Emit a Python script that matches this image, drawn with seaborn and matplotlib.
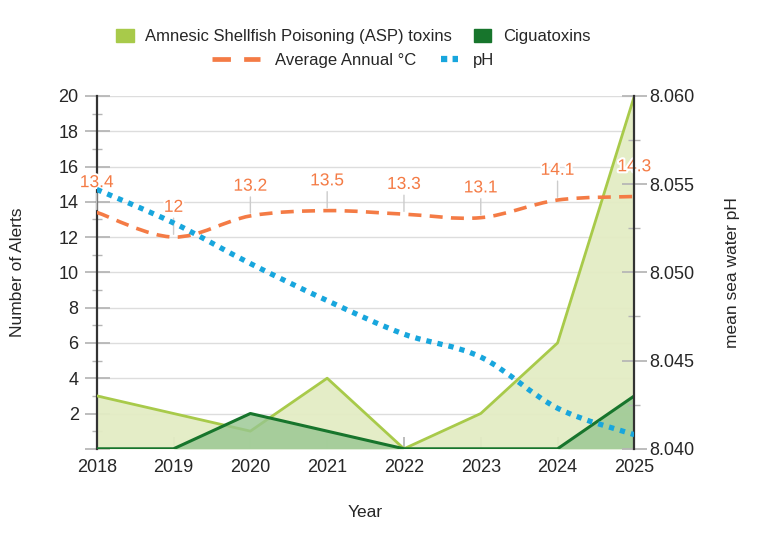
import matplotlib
matplotlib.use("Agg")
import matplotlib.pyplot as plt
import matplotlib.patheffects as pe
import numpy as np
import pandas as pd
import seaborn as sns
from matplotlib.legend_handler import HandlerLine2D
from matplotlib.lines import Line2D
from matplotlib.patches import Patch, PathPatch
from matplotlib.path import Path
from matplotlib.ticker import MultipleLocator

YEARS = [2018, 2019, 2020, 2021, 2022, 2023, 2024, 2025]
ASP_ALERTS = [3, 2, 1, 4, 0, 2, 6, 20]
CIGUA_ALERTS = [0, 0, 2, 1, 0, 0, 0, 3]
AVG_TEMP = [13.4, 12, 13.2, 13.5, 13.3, 13.1, 14.1, 14.3]
SEA_PH = [8.0547, 8.0528, 8.0505, 8.0484, 8.0465, 8.0452, 8.0423, 8.0408]

ASP_LINE, ASP_FILL = "#a8ca4a", "#e3ecc4"
CIG_LINE, CIG_FILL = "#17752c", "#97c690"
TEMP_COLOR = "#f47b45"
PH_COLOR = "#18a6dd"
TICK_GREY = "#b5b5b5"

sns.set_theme(style="white")
plt.rcParams["font.family"] = ["Liberation Sans", "DejaVu Sans"]


def spline_path(xs, ys):
    """Catmull-Rom curve through the data points, as a bezier path."""
    pts = np.column_stack([xs, ys]).astype(float)
    ext = np.vstack([pts[0], pts, pts[-1]])
    verts, codes = [pts[0]], [Path.MOVETO]
    for i in range(1, len(ext) - 2):
        p0, p1, p2, p3 = ext[i - 1], ext[i], ext[i + 1], ext[i + 2]
        verts += [p1 + (p2 - p0) / 6, p2 - (p3 - p1) / 6, p2]
        codes += [Path.CURVE4] * 3
    return Path(verts, codes)


class ShortLineHandler(HandlerLine2D):
    """Draws the legend line only on the right part of the handle box."""

    def __init__(self, frac=0.36, **kw):
        super().__init__(**kw)
        self.frac = frac

    def create_artists(self, legend, orig_handle, xdescent, ydescent, width,
                       height, fontsize, trans):
        short = width * self.frac
        return super().create_artists(legend, orig_handle, xdescent - (width - short),
                                      ydescent, short, height, fontsize, trans)


df = pd.DataFrame({"Year": YEARS, "ASP": ASP_ALERTS, "Cigua": CIGUA_ALERTS,
                   "Temp": AVG_TEMP, "pH": SEA_PH})

fig = plt.figure(figsize=(7.68, 5.33), dpi=100)
ax = fig.add_axes([0.126, 0.158, 0.700, 0.662])
ax2 = ax.twinx()

# areas, both drawn from zero
ax.fill_between(df["Year"], df["ASP"], color=ASP_FILL, alpha=0.95, zorder=2, lw=0)
sns.lineplot(data=df, x="Year", y="ASP", ax=ax, color=ASP_LINE, lw=2, zorder=3)
ax.fill_between(df["Year"], df["Cigua"], color=CIG_FILL, alpha=0.8, zorder=4, lw=0)
sns.lineplot(data=df, x="Year", y="Cigua", ax=ax, color=CIG_LINE, lw=2.2, zorder=5)

# temperature on the left scale
ax.add_patch(PathPatch(spline_path(df["Year"], df["Temp"]), fill=False,
                       edgecolor=TEMP_COLOR, lw=2.6, linestyle=(0, (3.6, 2.3)),
                       zorder=6, capstyle="butt"))
for x, t in zip(df["Year"], df["Temp"]):
    ax.annotate(f"{t:g}", (x, t), xytext=(0, 16), textcoords="offset points",
                ha="center", va="bottom", color=TEMP_COLOR, fontsize=12.5, zorder=8,
                path_effects=[pe.withStroke(linewidth=3, foreground="white")],
                arrowprops=dict(arrowstyle="-", color="#cccccc", lw=1,
                                shrinkA=0, shrinkB=2))

# pH on the right scale
ax2.add_patch(PathPatch(spline_path(df["Year"], df["pH"]), fill=False,
                        edgecolor=PH_COLOR, lw=3.8, linestyle=(0, (1, 1.15)),
                        zorder=7, capstyle="butt"))

ax.set_xlim(2018, 2025)
ax.set_ylim(0, 20)
ax2.set_ylim(8.040, 8.060)
ax.set_zorder(ax2.get_zorder() - 1)
ax2.patch.set_visible(False)

ax.set_xticks(YEARS)
ax.set_xticklabels([str(y) for y in YEARS])
ax.yaxis.set_minor_locator(MultipleLocator(1))
ax.set_yticks(range(0, 21, 2))
ax.set_yticklabels([""] + [str(v) for v in range(2, 21, 2)])
ph_ticks = np.arange(8.040, 8.0601, 0.005)
ax2.set_yticks(ph_ticks)
ax2.set_yticklabels([f"{v:.3f}" for v in ph_ticks])
ax2.yaxis.set_minor_locator(MultipleLocator(0.0025))

ax.grid(axis="y", color="#dddddd", lw=1, zorder=0)
ax.grid(axis="x", visible=False)
ax.tick_params(axis="x", direction="in", length=9, color=TICK_GREY,
               labelsize=13, pad=7, bottom=True)
ax.tick_params(axis="y", which="major", direction="inout", length=18, color=TICK_GREY,
               labelsize=13, left=True, pad=4)
ax.tick_params(axis="y", which="minor", direction="inout", length=7, color=TICK_GREY,
               left=True)
ax2.tick_params(axis="y", which="major", direction="inout", length=18, color=TICK_GREY,
                labelsize=13, right=True, pad=2)
ax2.tick_params(axis="y", which="minor", direction="inout", length=8, color=TICK_GREY,
                right=True)

for a in (ax, ax2):
    for side in ("top", "bottom"):
        a.spines[side].set_visible(False)
ax.spines["right"].set_visible(False)
ax2.spines["left"].set_visible(False)
ax.spines["left"].set_color("#333333")
ax.spines["left"].set_linewidth(1.6)
ax2.spines["right"].set_color("#333333")
ax2.spines["right"].set_linewidth(1.6)

ax.set_xlabel("Year", fontsize=12.5, labelpad=21)
ax.set_ylabel("Number of Alerts", fontsize=12.5, labelpad=24)
ax2.set_ylabel("mean sea water pH", fontsize=12.5, labelpad=22)

area_handles = [Patch(color=ASP_LINE, label="Amnesic Shellfish Poisoning (ASP) toxins"),
                Patch(color=CIG_LINE, label="Ciguatoxins")]
temp_handle = Line2D([], [], color=TEMP_COLOR, lw=3.4, linestyle=(0, (3.9, 2.8)),
                     label="Average Annual °C")
ph_handle = Line2D([], [], color=PH_COLOR, lw=4.5, linestyle=(0, (1, 0.85)), label="pH")
fig.legend(handles=area_handles, loc="center", bbox_to_anchor=(0.46, 0.931), ncol=2,
           frameon=False, fontsize=12, handlelength=1.05, handleheight=0.8,
           columnspacing=1.3, handletextpad=0.7)
fig.legend(handles=[temp_handle, ph_handle], loc="center", bbox_to_anchor=(0.46, 0.886),
           ncol=2, frameon=False, fontsize=12, handlelength=2.9, columnspacing=-0.4,
           handletextpad=0.9, handler_map={ph_handle: ShortLineHandler(frac=0.36)})

fig.savefig("out.png", dpi=100)
